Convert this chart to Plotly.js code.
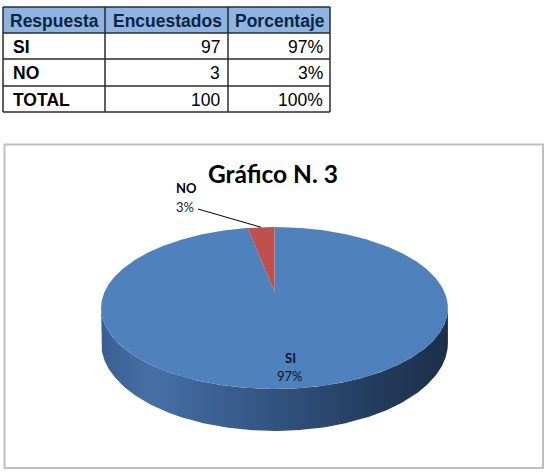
<!DOCTYPE html>
<html>
<head>
<meta charset="utf-8">
<script src="https://cdn.plot.ly/plotly-3.0.1.min.js"></script>
<style>html,body{margin:0;padding:0;background:#fff;}#chart{width:553px;height:473px;}</style>
</head>
<body>
<div id="chart"></div>
<script>
// ---- data ----
const headers = ['Respuesta', 'Encuestados', 'Porcentaje'];
const categories = ['SI', 'NO'];
const encuestados = [97, 3];
const totalLabel = 'TOTAL';
const chartTitle = 'Gráfico N. 3';

// ---- derived ----
const total = encuestados.reduce((a, b) => a + b, 0);
const pct = v => Math.round(v / total * 100) + '%';

// ---- 3D pie geometry (perspective ellipse) ----
const CX = 274.5, CY = 292, A = 170, B = 77.8, K = 0.1975, D0 = 33.7;
function proj(deg, drop) {
  const t = deg * Math.PI / 180;
  const u = Math.sin(t), v = -Math.cos(t);
  const w = 1 - K * v;
  return [CX + A * u / w, CY + B * v / w + (drop ? D0 / w : 0)];
}
const faceColors = ['#4F81BD', '#C0504D'];
const sideScales = [
  [[0, '#3a5f92'], [0.15, '#4670a6'], [0.5, '#325380'], [0.85, '#213857'], [1, '#1c304c']],
  [[0, '#8a3a38'], [0.5, '#7a302e'], [1, '#4a1c1b']]
];
const frontStart = Math.acos(-K) * 180 / Math.PI;  // right extreme
const frontEnd = 360 - frontStart;                   // left extreme

const traces = [];
let start = 0;
const slices = encuestados.map((v, i) => {
  const s = start, e = start + v / total * 360;
  start = e;
  return {s, e, i};
});
// sides first
slices.forEach(({s, e, i}) => {
  const a = Math.max(s, frontStart), b = Math.min(e, frontEnd);
  if (b <= a) return;
  const xs = [], ys = [];
  for (let d = a; d <= b; d += 0.5) { const p = proj(d, false); xs.push(p[0]); ys.push(p[1]); }
  for (let d = b; d >= a; d -= 0.5) { const p = proj(d, true); xs.push(p[0]); ys.push(p[1]); }
  traces.push({
    type: 'scatter', mode: 'lines', x: xs, y: ys, fill: 'toself',
    fillgradient: {type: 'horizontal', colorscale: sideScales[i], start: CX - A * 1.02, stop: CX + A * 1.02},
    line: {width: 0, color: 'rgba(0,0,0,0)'}, hoverinfo: 'skip', showlegend: false
  });
});
// top faces
slices.forEach(({s, e, i}) => {
  const xs = [CX], ys = [CY];
  const n = Math.max(2, Math.ceil((e - s) / 0.5));
  for (let j = 0; j <= n; j++) { const p = proj(s + (e - s) * j / n, false); xs.push(p[0]); ys.push(p[1]); }
  xs.push(CX); ys.push(CY);
  traces.push({
    type: 'scatter', mode: 'lines', x: xs, y: ys, fill: 'toself', fillcolor: faceColors[i],
    line: {width: 0, color: 'rgba(0,0,0,0)'}, hoverinfo: 'skip', showlegend: false
  });
});

// chart labels
const annotations = [];
annotations.push({x: 273, y: 173, xref: 'x', yref: 'y', text: '<b>' + chartTitle + '</b>', showarrow: false,
  font: {family: 'Lato', size: 24.5, color: '#000'}, xanchor: 'center', yanchor: 'middle'});
annotations.push({x: 290, y: 358, xref: 'x', yref: 'y', text: '<b>' + categories[0] + '</b>', showarrow: false,
  font: {family: 'Lato', size: 13, color: '#0d1526'}, xanchor: 'center', yanchor: 'middle'});
annotations.push({x: 290, y: 376, xref: 'x', yref: 'y', text: pct(encuestados[0]), showarrow: false,
  font: {family: 'Lato', size: 13, color: '#0d1526'}, xanchor: 'center', yanchor: 'middle'});
annotations.push({x: 186, y: 188, xref: 'x', yref: 'y', text: '<b>' + categories[1] + '</b>', showarrow: false,
  font: {family: 'Lato', size: 13, color: '#000'}, xanchor: 'center', yanchor: 'middle'});
annotations.push({x: 185, y: 207, xref: 'x', yref: 'y', text: pct(encuestados[1]), showarrow: false,
  font: {family: 'Lato', size: 13, color: '#222'}, xanchor: 'center', yanchor: 'middle'});
const mid = proj((slices[1].s + slices[1].e) / 2, false);
traces.push({type: 'scatter', mode: 'lines', x: [198, mid[0]], y: [209, mid[1]],
  line: {color: '#000', width: 1}, hoverinfo: 'skip', showlegend: false});

// ---- table (shapes + text) ----
const colX = [3, 105, 228, 330];
const rowY = [7, 33, 59, 86, 112];
const shapes = [];
shapes.push({type: 'rect', xref: 'x', yref: 'y', x0: colX[0], x1: colX[3], y0: rowY[0], y1: rowY[1],
  fillcolor: '#8DB4E2', line: {width: 0}, layer: 'below'});
rowY.forEach(y => shapes.push({type: 'line', xref: 'x', yref: 'y', x0: colX[0], x1: colX[3], y0: y, y1: y,
  line: {color: '#2b2b2b', width: 1.5}}));
colX.forEach(x => shapes.push({type: 'line', xref: 'x', yref: 'y', x0: x, x1: x, y0: rowY[0], y1: rowY[4],
  line: {color: '#2b2b2b', width: 1.5}}));
const tFont = {family: 'Liberation Sans', size: 17.5, color: '#000'};
headers.forEach((h, c) => annotations.push({x: (colX[c] + colX[c + 1]) / 2 + 0.5, y: (rowY[0] + rowY[1]) / 2 + 0.5,
  xref: 'x', yref: 'y', text: '<b>' + h + '</b>', showarrow: false, xanchor: 'center', yanchor: 'middle',
  font: {family: 'Liberation Sans', size: 17.5, color: '#0F243E'}}));
const col1 = categories.concat([totalLabel]);
const col2 = encuestados.concat([total]).map(String);
const col3 = encuestados.concat([total]).map(pct);
col1.forEach((t, r) => {
  const yc = (rowY[r + 1] + rowY[r + 2]) / 2 + 0.5;
  annotations.push({x: colX[0] + 8, y: yc, xref: 'x', yref: 'y', text: '<b>' + t + '</b>', showarrow: false,
    xanchor: 'left', yanchor: 'middle', font: tFont});
  annotations.push({x: colX[2] - 6, y: yc, xref: 'x', yref: 'y', text: col2[r], showarrow: false,
    xanchor: 'right', yanchor: 'middle', font: tFont});
  annotations.push({x: colX[3] - 5, y: yc, xref: 'x', yref: 'y', text: col3[r], showarrow: false,
    xanchor: 'right', yanchor: 'middle', font: tFont});
});

// chart frame
shapes.push({type: 'rect', xref: 'x', yref: 'y', x0: 4.5, y0: 144.5, x1: 543, y1: 468,
  line: {color: '#bfbfbf', width: 2}, layer: 'below'});

const layout = {
  width: 553, height: 473,
  margin: {l: 0, r: 0, t: 0, b: 0},
  paper_bgcolor: '#fff', plot_bgcolor: '#fff',
  showlegend: false,
  xaxis: {range: [0, 553], visible: false, fixedrange: true},
  yaxis: {range: [473, 0], visible: false, fixedrange: true},
  shapes: shapes,
  annotations: annotations
};
Plotly.newPlot('chart', traces, layout, {staticPlot: true, displayModeBar: false});
</script>
</body>
</html>
